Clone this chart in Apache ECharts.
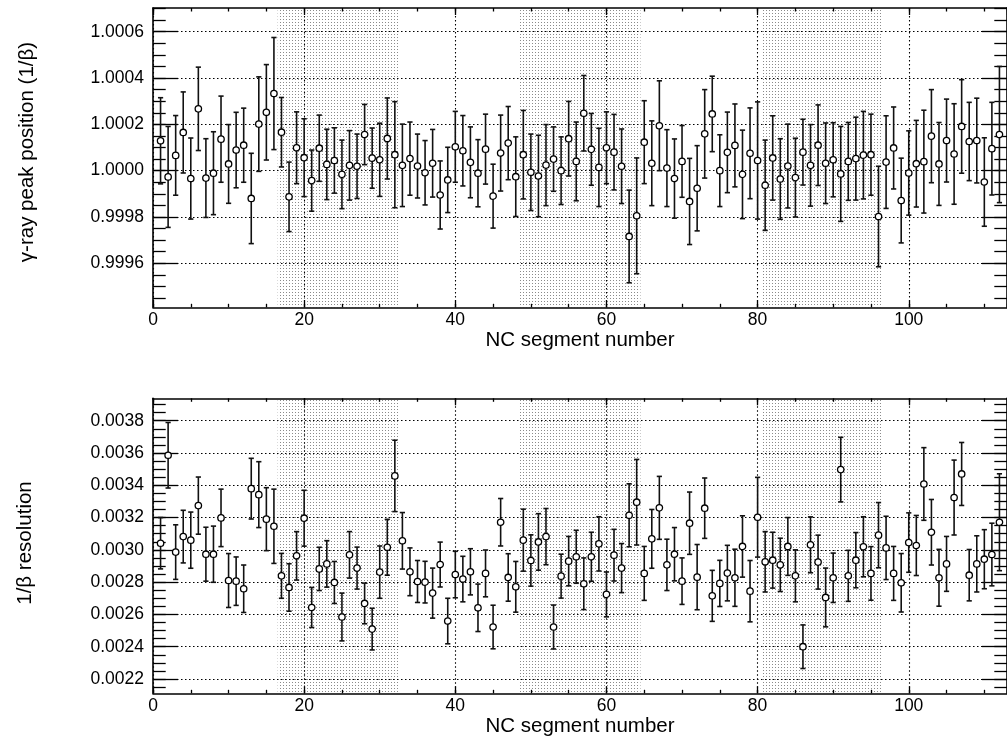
<!DOCTYPE html>
<html>
<head>
<meta charset="utf-8">
<script src="https://cdn.jsdelivr.net/npm/echarts@6/dist/echarts.min.js"></script>
<style>
html,body{margin:0;padding:0;background:#fff;overflow:hidden}
#c{width:1007px;height:740px}
</style>
</head>
<body>
<div id="c"></div>
<script>
// ---------------- data ----------------
const segments = [1,2,3,4,5,6,7,8,9,10,11,12,13,14,15,16,17,18,19,20,21,22,23,24,25,26,27,28,29,30,
31,32,33,34,35,36,37,38,39,40,41,42,43,44,45,46,47,48,49,50,51,52,53,54,55,56,57,58,59,60,
61,62,63,64,65,66,67,68,69,70,71,72,73,74,75,76,77,78,79,80,81,82,83,84,85,86,87,88,89,90,
91,92,93,94,95,96,97,98,99,100,101,102,103,104,105,106,107,108,109,110,111,112];

const peakPosition = [
1.000129,0.999973,1.000066,1.000165,0.999966,1.000267,0.999968,0.999989,1.000136,1.000029,
1.000089,1.000110,0.999880,1.000201,1.000252,1.000333,1.000166,0.999887,1.000099,1.000056,
0.999957,1.000097,1.000027,1.000044,0.999984,1.000023,1.000019,1.000156,1.000054,1.000047,
1.000139,1.000069,1.000023,1.000052,1.000020,0.999991,1.000032,0.999895,0.999960,1.000103,
1.000086,1.000036,0.999989,1.000093,0.999890,1.000076,1.000119,0.999974,1.000069,0.999993,
0.999977,1.000024,1.000050,1.000000,1.000138,1.000040,1.000248,1.000092,1.000014,1.000099,
1.000080,1.000019,0.999716,0.999805,1.000123,1.000032,1.000194,1.000011,0.999966,1.000040,
0.999867,0.999924,1.000159,1.000245,1.000000,1.000079,1.000109,0.999984,1.000075,1.000044,
0.999937,1.000055,0.999964,1.000020,0.999970,1.000080,1.000023,1.000110,1.000032,1.000047,
0.999986,1.000040,1.000052,1.000067,1.000069,0.999802,1.000037,1.000098,0.999871,0.999990,
1.000030,1.000039,1.000149,1.000029,1.000130,1.000072,1.000191,1.000126,1.000130,0.999951,
1.000095,1.000156];

const peakError = [
0.000186,0.000218,0.000172,0.000175,0.000175,0.000180,0.000170,0.000179,0.000186,0.000170,
0.000163,0.000160,0.000195,0.000204,0.000206,0.000242,0.000150,0.000150,0.000155,0.000168,
0.000132,0.000143,0.000152,0.000141,0.000148,0.000150,0.000139,0.000130,0.000130,0.000158,
0.000175,0.000229,0.000178,0.000158,0.000138,0.000139,0.000146,0.000147,0.000141,0.000153,
0.000152,0.000153,0.000145,0.000151,0.000138,0.000164,0.000158,0.000172,0.000191,0.000165,
0.000176,0.000175,0.000139,0.000146,0.000161,0.000170,0.000163,0.000155,0.000169,0.000155,
0.000163,0.000161,0.000200,0.000250,0.000179,0.000183,0.000194,0.000166,0.000171,0.000155,
0.000186,0.000184,0.000191,0.000163,0.000155,0.000174,0.000179,0.000191,0.000196,0.000253,
0.000195,0.000182,0.000174,0.000181,0.000170,0.000142,0.000176,0.000174,0.000174,0.000160,
0.000205,0.000168,0.000179,0.000189,0.000175,0.000217,0.000200,0.000177,0.000183,0.000182,
0.000187,0.000222,0.000201,0.000179,0.000179,0.000217,0.000202,0.000169,0.000183,0.000191,
0.000200,0.000294];

const resolution = [
0.003041,0.003586,0.002986,0.003082,0.003060,0.003274,0.002973,0.002973,0.003198,0.002810,
0.002806,0.002759,0.003379,0.003342,0.003190,0.003146,0.002839,0.002767,0.002963,0.003196,
0.002643,0.002882,0.002913,0.002798,0.002584,0.002969,0.002887,0.002668,0.002509,0.002862,
0.003016,0.003458,0.003056,0.002864,0.002804,0.002800,0.002732,0.002909,0.002559,0.002847,
0.002819,0.002864,0.002641,0.002854,0.002522,0.003171,0.002829,0.002771,0.003060,0.002934,
0.003049,0.003082,0.002522,0.002837,0.002930,0.002957,0.002790,0.002957,0.003037,0.002724,
0.002967,0.002887,0.003214,0.003295,0.002854,0.003068,0.003260,0.002907,0.002973,0.002806,
0.003165,0.002831,0.003258,0.002715,0.002792,0.002856,0.002827,0.003021,0.002744,0.003202,
0.002926,0.002936,0.002907,0.003021,0.002839,0.002400,0.003031,0.002924,0.002705,0.002827,
0.003497,0.002839,0.002936,0.003019,0.002854,0.003091,0.003012,0.002854,0.002796,0.003045,
0.003027,0.003408,0.003109,0.002827,0.002913,0.003324,0.003470,0.002843,0.002913,0.002942,
0.002971,0.003171];

const resolutionError = [
0.000159,0.000203,0.000169,0.000163,0.000174,0.000177,0.000167,0.000174,0.000178,0.000167,
0.000150,0.000147,0.000188,0.000204,0.000195,0.000230,0.000139,0.000147,0.000150,0.000173,
0.000124,0.000134,0.000144,0.000130,0.000148,0.000144,0.000130,0.000126,0.000129,0.000162,
0.000173,0.000221,0.000175,0.000148,0.000130,0.000129,0.000155,0.000139,0.000141,0.000144,
0.000141,0.000143,0.000147,0.000145,0.000135,0.000147,0.000147,0.000157,0.000192,0.000159,
0.000175,0.000174,0.000136,0.000136,0.000153,0.000164,0.000160,0.000152,0.000168,0.000139,
0.000160,0.000152,0.000195,0.000265,0.000167,0.000182,0.000195,0.000159,0.000165,0.000144,
0.000193,0.000202,0.000187,0.000158,0.000143,0.000172,0.000177,0.000190,0.000190,0.000247,
0.000187,0.000173,0.000165,0.000179,0.000161,0.000135,0.000173,0.000167,0.000182,0.000153,
0.000200,0.000158,0.000171,0.000186,0.000166,0.000202,0.000196,0.000167,0.000181,0.000184,
0.000186,0.000225,0.000203,0.000176,0.000170,0.000232,0.000195,0.000159,0.000174,0.000183,
0.000194,0.000300];

const shadedRanges = [[16.5, 32.5], [48.5, 64.5], [80.5, 96.5]];
const xTickLabels = [0, 20, 40, 60, 80, 100];
const peakTicks = [0.9996, 0.9998, 1.0000, 1.0002, 1.0004, 1.0006];
const resolutionTicks = [0.0022, 0.0024, 0.0026, 0.0028, 0.0030, 0.0032, 0.0034, 0.0036, 0.0038];

const xTitle = 'NC segment number';
const peakTitle = 'γ-ray peak position (1/β)';
const resolutionTitle = '1/β resolution';

// ---------------- layout / style ----------------
const FONT = 'Liberation Sans, Arial, Helvetica, sans-serif';
const X_MIN = 0, X_MAX = 113;
const TOP_RANGE = [0.99941, 1.0007024];
const BOT_RANGE = [0.0021114, 0.0039387];
const MINOR_STEP = 0.00005;

function minorValues(range) {
  const out = [];
  const k0 = Math.ceil(range[0] / MINOR_STEP - 1e-6);
  const k1 = Math.floor(range[1] / MINOR_STEP + 1e-6);
  for (let k = k0; k <= k1; k++) out.push(+(k * MINOR_STEP).toFixed(7));
  return out;
}

const dotted = { color: '#000', type: [1.5, 2.5], width: 1.1 };
const axisLineStyle = { color: '#000', width: 1.6 };
const tickStyle = { color: '#000', width: 1.3 };

function xAxes(gridIndex) {
  const base = { gridIndex, type: 'value', min: X_MIN, max: X_MAX };
  return [
    Object.assign({}, base, {
      position: 'bottom', interval: 20,
      axisLine: { show: true, onZero: false, lineStyle: axisLineStyle },
      axisTick: { show: true, inside: true, length: 7, lineStyle: tickStyle },
      axisLabel: { show: true, color: '#000', fontFamily: FONT, fontSize: 17.5, margin: 4,
        showMaxLabel: false,
        formatter: v => xTickLabels.indexOf(v) >= 0 ? String(v) : '' },
      splitLine: { show: true, lineStyle: dotted },
      name: xTitle, nameLocation: 'middle', nameGap: 22,
      nameTextStyle: { color: '#000', fontFamily: FONT, fontSize: 20.5 }
    }),
    Object.assign({}, base, {
      position: 'bottom', interval: 5,
      axisLine: { show: false, onZero: false },
      axisTick: { show: true, inside: true, length: 3.5, lineStyle: tickStyle },
      axisLabel: { show: false }, splitLine: { show: false }
    }),
    Object.assign({}, base, {
      position: 'top', interval: 20,
      axisLine: { show: true, onZero: false, lineStyle: axisLineStyle },
      axisTick: { show: true, inside: true, length: 7, lineStyle: tickStyle },
      axisLabel: { show: false }, splitLine: { show: false }
    }),
    Object.assign({}, base, {
      position: 'top', interval: 5,
      axisLine: { show: false, onZero: false },
      axisTick: { show: true, inside: true, length: 3.5, lineStyle: tickStyle },
      axisLabel: { show: false }, splitLine: { show: false }
    })
  ];
}

function yAxes(gridIndex, range, majors) {
  const minors = minorValues(range);
  const base = { gridIndex, type: 'value', min: range[0], max: range[1] };
  return [
    Object.assign({}, base, {
      position: 'left',
      axisLine: { show: true, onZero: false, lineStyle: axisLineStyle },
      axisTick: { show: true, inside: true, length: 25, customValues: majors, lineStyle: tickStyle },
      axisLabel: { show: true, customValues: majors, color: '#000', fontFamily: FONT, fontSize: 17.5,
        margin: 9, formatter: v => v.toFixed(4) },
      splitLine: { show: true, lineStyle: dotted }
    }),
    Object.assign({}, base, {
      position: 'left',
      axisLine: { show: false, onZero: false },
      axisTick: { show: true, inside: true, length: 12.7, customValues: minors, lineStyle: tickStyle },
      axisLabel: { show: false }, splitLine: { show: false }
    }),
    Object.assign({}, base, {
      position: 'right',
      axisLine: { show: true, onZero: false, lineStyle: axisLineStyle },
      axisTick: { show: true, inside: true, length: 25, customValues: majors, lineStyle: tickStyle },
      axisLabel: { show: false }, splitLine: { show: false }
    }),
    Object.assign({}, base, {
      position: 'right',
      axisLine: { show: false, onZero: false },
      axisTick: { show: true, inside: true, length: 12.7, customValues: minors, lineStyle: tickStyle },
      axisLabel: { show: false }, splitLine: { show: false }
    })
  ];
}

// dotted shading pattern
const patCanvas = document.createElement('canvas');
patCanvas.width = 3; patCanvas.height = 3;
(function () {
  const ctx = patCanvas.getContext('2d');
  ctx.fillStyle = '#ffffff'; ctx.fillRect(0, 0, 3, 3);
  ctx.fillStyle = '#8a8a8a'; ctx.fillRect(1, 1, 1, 1);
})();
const shadePattern = { image: patCanvas, repeat: 'repeat' };

function shadeSeries(axisIndex, range) {
  return {
    type: 'custom', xAxisIndex: axisIndex, yAxisIndex: axisIndex, z: -1, silent: true,
    data: shadedRanges.map(r => [r[0], r[1]]),
    renderItem: (params, api) => {
      const p0 = api.coord([api.value(0), range[1]]);
      const p1 = api.coord([api.value(1), range[0]]);
      return { type: 'rect', shape: { x: p0[0], y: p0[1], width: p1[0] - p0[0], height: p1[1] - p0[1] },
        style: { fill: shadePattern } };
    }
  };
}

function errorSeries(axisIndex, values, errors) {
  return {
    type: 'custom', xAxisIndex: axisIndex, yAxisIndex: axisIndex, z: 5,
    data: segments.map((s, i) => [s, values[i], errors[i]]),
    renderItem: (params, api) => {
      const x = api.value(0), y = api.value(1), e = api.value(2);
      const pt = api.coord([x, y + e]);
      const pb = api.coord([x, y - e]);
      const pc = api.coord([x, y]);
      const cap = 2.6;
      const ls = { stroke: '#111', lineWidth: 1.6 };
      return { type: 'group', children: [
        { type: 'line', shape: { x1: pt[0], y1: pt[1], x2: pb[0], y2: pb[1] }, style: ls },
        { type: 'line', shape: { x1: pt[0] - cap, y1: pt[1], x2: pt[0] + cap, y2: pt[1] }, style: ls },
        { type: 'line', shape: { x1: pb[0] - cap, y1: pb[1], x2: pb[0] + cap, y2: pb[1] }, style: ls },
        { type: 'circle', shape: { cx: pc[0], cy: pc[1], r: 3.2 }, style: { fill: '#fff', stroke: '#000', lineWidth: 1.3 } }
      ] };
    }
  };
}

const chart = echarts.init(document.getElementById('c'));
chart.setOption({
  animation: false,
  backgroundColor: '#fff',
  grid: [
    { left: 153, top: 8, width: 858, height: 299.3 },
    { left: 153, top: 398.3, width: 858, height: 295 }
  ],
  xAxis: xAxes(0).concat(xAxes(1)),
  yAxis: yAxes(0, TOP_RANGE, peakTicks).concat(yAxes(1, BOT_RANGE, resolutionTicks)),
  graphic: [
    { type: 'text', x: 27, y: 152, rotation: Math.PI / 2,
      style: { text: peakTitle, fill: '#000', font: '20.5px ' + FONT, textAlign: 'center', textVerticalAlign: 'middle' } },
    { type: 'text', x: 25, y: 543, rotation: Math.PI / 2,
      style: { text: resolutionTitle, fill: '#000', font: '20.5px ' + FONT, textAlign: 'center', textVerticalAlign: 'middle' } }
  ],
  series: [
    shadeSeries(0, TOP_RANGE),
    errorSeries(0, peakPosition, peakError),
    shadeSeries(4, BOT_RANGE),
    errorSeries(4, resolution, resolutionError)
  ]
});
</script>
</body>
</html>
